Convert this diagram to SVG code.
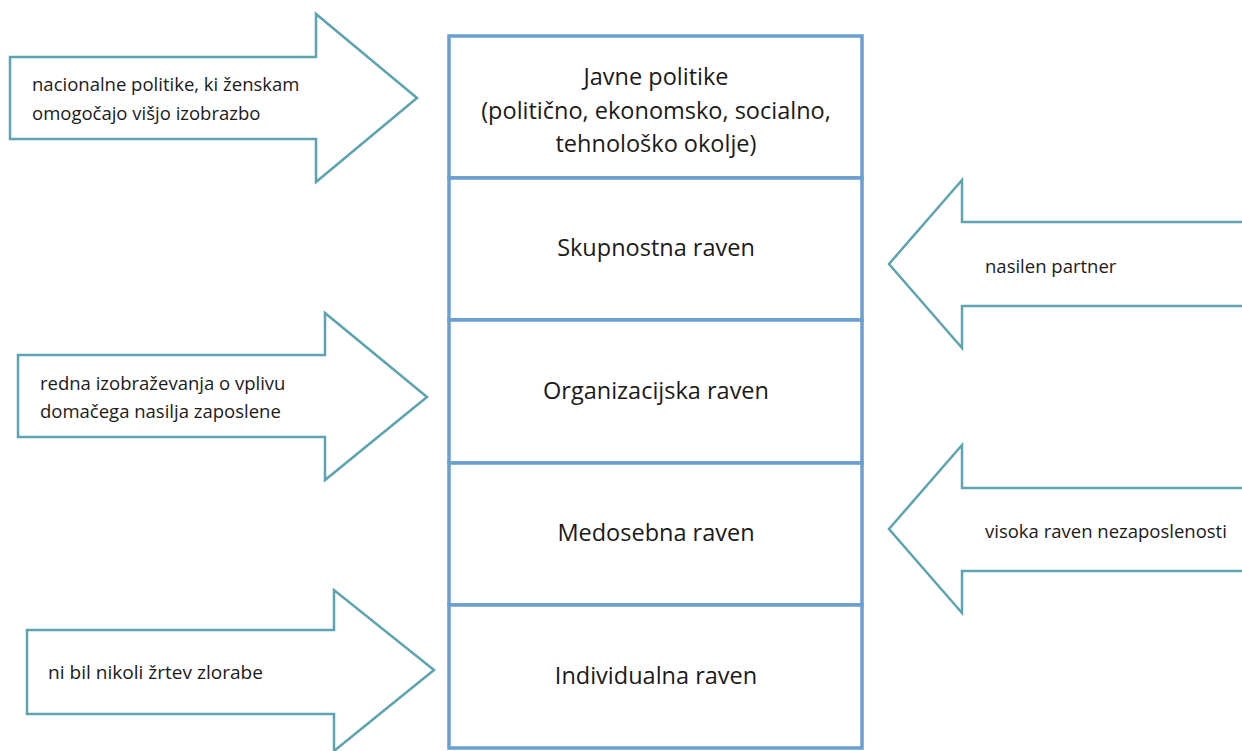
<svg xmlns="http://www.w3.org/2000/svg" width="1242" height="751" viewBox="0 0 1242 751">
  <style>
    .level { fill: #ffffff; stroke: #6a9fd0; stroke-width: 3.5; }
    .arrow { fill: #ffffff; stroke: #5ba4b0; stroke-width: 2.5; stroke-linejoin: miter; }
    .big { font-family: "Open Sans", "Liberation Sans", sans-serif; font-size: 23.5px; fill: #1a1a1a; text-anchor: middle; dominant-baseline: central; }
    .small { font-family: "Open Sans", "Liberation Sans", sans-serif; font-size: 18.5px; fill: #1a1a1a; dominant-baseline: central; }
  </style>

  <rect width="1242" height="751" fill="#ffffff"/>

  <!-- stacked levels -->
  <g id="level-public">
    <rect class="level" x="449" y="36" width="413" height="142"/>
    <text class="big" x="656" y="76">Javne politike</text>
    <text class="big" x="656" y="110">(politično, ekonomsko, socialno,</text>
    <text class="big" x="656" y="143">tehnološko okolje)</text>
  </g>
  <g id="level-community">
    <rect class="level" x="449" y="178" width="413" height="142"/>
    <text class="big" x="656" y="247">Skupnostna raven</text>
  </g>
  <g id="level-organisation">
    <rect class="level" x="449" y="320" width="413" height="143"/>
    <text class="big" x="656" y="390">Organizacijska raven</text>
  </g>
  <g id="level-interpersonal">
    <rect class="level" x="449" y="463" width="413" height="142"/>
    <text class="big" x="656" y="532">Medosebna raven</text>
  </g>
  <g id="level-individual">
    <rect class="level" x="449" y="605" width="413" height="143"/>
    <text class="big" x="656" y="675">Individualna raven</text>
  </g>

  <!-- block arrows -->
  <g id="connectors">
    <g id="arrow-policies">
      <polygon class="arrow" points="10,57 316,57 316,14 417,98 316,182 316,139 10,139"/>
      <text class="small" x="32" y="83">nacionalne politike, ki ženskam</text>
      <text class="small" x="32" y="112">omogočajo višjo izobrazbo</text>
    </g>
    <g id="arrow-training">
      <polygon class="arrow" points="18,355 325,355 325,313 427,397 325,480 325,437 18,437"/>
      <text class="small" x="40" y="382">redna izobraževanja o vplivu</text>
      <text class="small" x="40" y="410">domačega nasilja zaposlene</text>
    </g>
    <g id="arrow-victim">
      <polygon class="arrow" points="27,630 334,630 334,590 434,670 334,751 334,714 27,714"/>
      <text class="small" x="48" y="671" textLength="215" lengthAdjust="spacingAndGlyphs">ni bil nikoli žrtev zlorabe</text>
    </g>
    <g id="arrow-partner">
      <polygon class="arrow" points="1245,222 962,222 962,180 889,264 962,348 962,306 1245,306"/>
      <text class="small" x="985" y="265">nasilen partner</text>
    </g>
    <g id="arrow-unemployment">
      <polygon class="arrow" points="1245,488 962,488 962,445 889,529 962,613 962,571 1245,571"/>
      <text class="small" x="985" y="530">visoka raven nezaposlenosti</text>
    </g>
  </g>
</svg>
